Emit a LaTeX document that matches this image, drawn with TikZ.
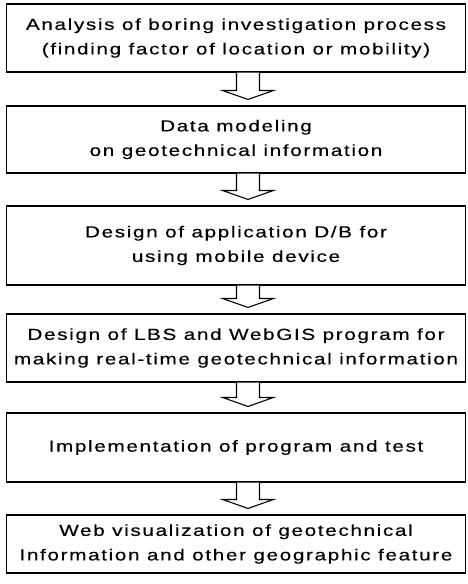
\documentclass[tikz,border=0pt]{standalone}
\usepackage{fontspec}
\setmainfont{Liberation Sans}[FakeStretch=1.3,LetterSpace=10,FakeBold=0.25]
\usetikzlibrary{calc}

\tikzset{
  stepbox/.style={draw, line width=1.1pt, minimum width=459pt, inner sep=0pt,
    align=center, font=\fontsize{16}{24.5}\selectfont},
  flowarrow/.style={draw, line width=1.1pt, fill=white, line join=miter}
}
\newcommand{\flowarr}[2]{%
  \path ($(#1.south)+(12pt,0)$) coordinate (t) ($(#2.north)+(12pt,6pt)$) coordinate (h);
  \draw[flowarrow] ($(t)+(-11.5pt,0)$) -- ($(h)+(-11.5pt,9pt)$) -- ($(h)+(-25.5pt,9pt)$) -- (h)
    -- ($(h)+(25.5pt,9pt)$) -- ($(h)+(11.5pt,9pt)$) -- ($(t)+(11.5pt,0)$);
}

\begin{document}
\begin{tikzpicture}[x=1pt,y=1pt]
	\useasboundingbox (0,0) rectangle (468,-584);

	\node[stepbox, minimum height=68pt] (analysis) at (236,-38) {Analysis of boring investigation process\\(finding factor of location or mobility)};
	\node[stepbox, minimum height=67pt] (model) at (236,-139.5) {Data modeling\\on geotechnical information};
	\node[stepbox, minimum height=79pt] (appdb) at (236,-245.5) {Design of application D/B for\\using mobile device};
	\node[stepbox, minimum height=68pt] (lbs) at (236,-348) {Design of LBS and WebGIS program for\\making real-time geotechnical information};
	\node[stepbox, minimum height=69pt] (impl) at (236,-447.5) {Implementation of program and test};
	\node[stepbox, minimum height=58pt] (webvis) at (236,-544) {Web visualization of geotechnical\\Information and other geographic feature};

	\flowarr{analysis}{model}
	\flowarr{model}{appdb}
	\flowarr{appdb}{lbs}
	\flowarr{lbs}{impl}
	\flowarr{impl}{webvis}
\end{tikzpicture}
\end{document}
